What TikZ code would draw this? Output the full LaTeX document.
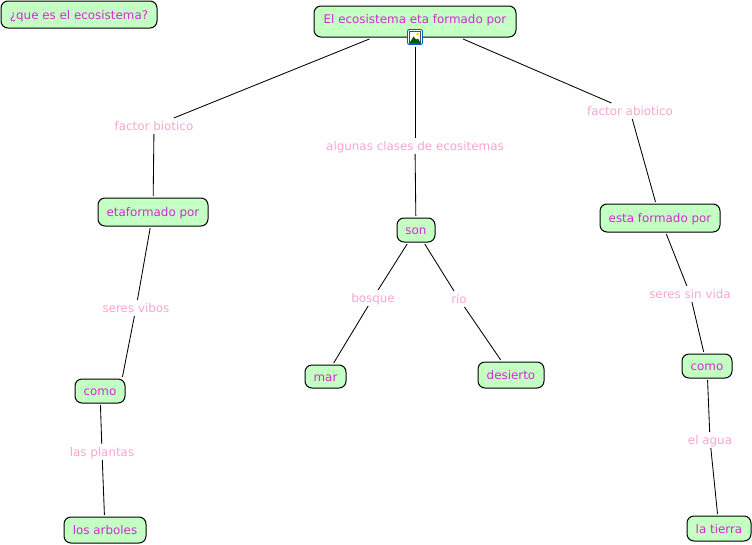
\documentclass[tikz,border=0pt]{standalone}
\usepackage{fontspec}
\setmainfont{DejaVu Sans}
\usepackage{xcolor}
\usetikzlibrary{positioning}
\definecolor{conceptfill}{HTML}{C4FFC4}
\definecolor{concepttext}{HTML}{D42AD4}
\definecolor{linktext}{HTML}{F7A6CF}
\tikzset{
  concept/.style={draw=black,fill=conceptfill,text=concepttext,rounded corners=7pt,line width=1pt,
    font=\fontsize{11.9}{13}\selectfont,inner sep=0pt,outer sep=2pt,text height=11.5pt,text depth=2.5pt},
  linklabel/.style={text=linktext,font=\fontsize{11.9}{13}\selectfont,inner xsep=2pt,inner ysep=0pt,outer sep=1pt,
    text height=11.5pt,text depth=2.5pt},
  joinline/.style={draw=black,line width=0.85pt},
}
\begin{document}
\begin{tikzpicture}[x=1pt,y=-1pt]
  \useasboundingbox (0,0) rectangle (752,544);
  % concepts
  \node[concept,minimum width=156pt,minimum height=27pt] (que) at (79,14.5) {¿que es el ecosistema?};
  \node[concept,minimum width=202pt,minimum height=31pt,text depth=7.5pt] (root) at (415,21.5) {El ecosistema eta formado por};
  \node[concept,minimum width=110pt,minimum height=28pt] (formadoA) at (153,212) {etaformado por};
  \node[concept,minimum width=50pt,minimum height=24pt] (comoA) at (100,391) {como};
  \node[concept,minimum width=82pt,minimum height=26pt] (arboles) at (105,530) {los arboles};
  \node[concept,minimum width=38pt,minimum height=24pt] (son) at (416,230) {son};
  \node[concept,minimum width=41pt,minimum height=23pt] (mar) at (325.5,376.5) {mar};
  \node[concept,minimum width=66pt,minimum height=26pt] (desierto) at (511,375) {desierto};
  \node[concept,minimum width=120pt,minimum height=28pt] (formadoB) at (660,218) {esta formado por};
  \node[concept,minimum width=50pt,minimum height=24pt] (comoB) at (707,366) {como};
  \node[concept,minimum width=64pt,minimum height=25pt] (tierra) at (719,528.5) {la tierra};
  % link labels
  \node[linklabel] (biotico) at (154,126) {factor biotico};
  \node[linklabel] (clases) at (415,146) {algunas clases de ecositemas};
  \node[linklabel] (abiotico) at (630,111) {factor abiotico};
  \node[linklabel] (vibos) at (136,308) {seres vibos};
  \node[linklabel] (bosque) at (373,298) {bosque};
  \node[linklabel] (rio) at (459,299) {río};
  \node[linklabel] (sinvida) at (690,294) {seres sin vida};
  \node[linklabel] (plantas) at (102,452) {las plantas};
  \node[linklabel] (agua) at (710,440) {el agua};
  % icon
  \node[draw=blue!55!cyan!80!black,fill=white,rounded corners=2pt,line width=0.9pt,minimum size=15pt,inner sep=0pt,outer sep=2pt] (icon) at (415,37) {};
  \fill[yellow!80!orange] (417.5,34) circle (1.6pt);
  \fill[green!35!black] (409.5,43) -- (413.5,36.5) -- (416,39.5) -- (418,38.5) -- (420.5,43) -- cycle;
  \draw[black!70,line width=0.5pt] (409.5,31.5) rectangle (420.5,43);
  % connectors
  \draw[joinline] (root.201) -- (biotico);
  \draw[joinline] (biotico) -- (formadoA);
  \draw[joinline] (formadoA) -- (vibos);
  \draw[joinline] (vibos) -- (comoA.32);
  \draw[joinline] (comoA) -- (plantas);
  \draw[joinline] (plantas) -- (arboles);
  \draw[joinline] (icon) -- (clases);
  \draw[joinline] (clases) -- (son);
  \draw[joinline] (son) -- (bosque);
  \draw[joinline] (bosque) -- (mar);
  \draw[joinline] (son) -- (rio);
  \draw[joinline] (rio) -- (desierto);
  \draw[joinline] (root.-20) -- (abiotico);
  \draw[joinline] (abiotico) -- (formadoB);
  \draw[joinline] (formadoB) -- (sinvida);
  \draw[joinline] (sinvida) -- (comoB);
  \draw[joinline] (comoB) -- (agua);
  \draw[joinline] (agua) -- (tierra);
\end{tikzpicture}
\end{document}
